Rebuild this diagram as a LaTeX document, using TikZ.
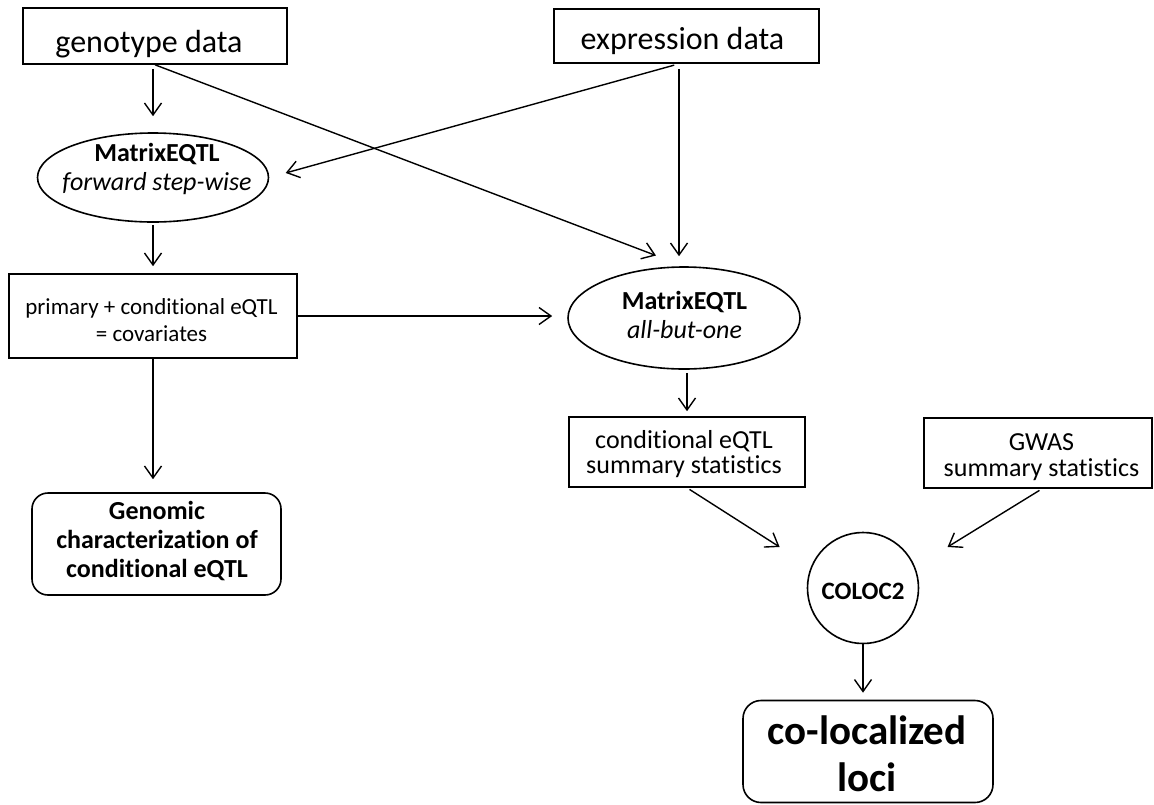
\documentclass[tikz,border=0pt]{standalone}
\usepackage{fontspec}
\setmainfont[RawFeature={-liga;-calt;-clig;-dlig}]{Carlito}
\usetikzlibrary{arrows.meta,shapes.geometric,calc}
\begin{document}
\begin{tikzpicture}[x=1pt,y=-1pt,
  shp/.style={draw, line width=1.6pt, inner sep=0pt, rectangle},
  rbox/.style={shp, rounded corners=16pt},
  ell/.style={draw, line width=1.6pt, inner sep=0pt, ellipse},
  lbl/.style={inner sep=0pt, align=center},
  big/.style={font=\fontsize{32}{38}\selectfont},
  mid/.style={font=\fontsize{26}{29}\selectfont},
  arr/.style={line width=1.4pt, -{Straight Barb[length=12pt,width=17pt]}}
]
\useasboundingbox (0,0) rectangle (1154,804);

% shapes
\node[shp, minimum width=264pt, minimum height=56pt] (geno) at (155,36) {};
\node[shp, minimum width=265pt, minimum height=54pt] (expr) at (686.5,36) {};
\node[ell, minimum width=231pt, minimum height=89pt] (e1) at (153,177.5) {};
\node[shp, minimum width=288pt, minimum height=84pt] (prim) at (153,316) {};
\node[ell, minimum width=232pt, minimum height=102pt] (e2) at (684,318) {};
\node[shp, minimum width=236pt, minimum height=70pt] (cond) at (687,452) {};
\node[shp, minimum width=228pt, minimum height=70pt] (gwas) at (1038,453) {};
\node[rbox, minimum width=249pt, minimum height=102pt] (genom) at (156.5,544) {};
\node[draw, line width=1.6pt, inner sep=0pt, circle, minimum size=111pt] (coloc) at (863,588) {};
\node[shp, rounded corners=18pt, minimum width=250pt, minimum height=102pt] (loci) at (868,751.5) {};

% texts
\node[lbl, big] (genot) at (149,44.5) {genotype data};
\node[lbl, big] (exprt) at (682.5,41) {expression data};
\node[lbl, mid] (e1t) at (157,168.5) {\textbf{MatrixEQTL}\\\textit{forward step-wise}};
\node[lbl, font=\fontsize{23}{27}\selectfont] (primt) at (151.5,320) {primary + conditional eQTL\\= covariates};
\node[lbl, mid] (e2t) at (684.5,315) {\textbf{MatrixEQTL}\\\textit{all-but-one}};
\node[lbl, font=\fontsize{26}{25}\selectfont] (condt) at (684,454.5) {conditional eQTL\\summary statistics};
\node[lbl, font=\fontsize{26}{26}\selectfont] (gwast) at (1041.5,457.5) {GWAS\\summary statistics};
\node[lbl, font=\bfseries\fontsize{26}{29}\selectfont] (genomt) at (157,541) {Genomic\\characterization of\\conditional eQTL};
\node[lbl, font=\bfseries\fontsize{25}{30}\selectfont] (colocat) at (863,591) {COLOC2};
\node[lbl, font=\bfseries\fontsize{41}{47}\selectfont] (locit) at (867,754) {co-localized\\loci};

% connectors
\draw[arr, shorten <=4pt, shorten >=16pt] (e1.north |- geno.south) -- (e1.north);
\draw[arr, shorten >=30pt] (geno.south) -- (e2.north);
\draw[arr, shorten <=5pt, shorten >=10pt] ([xshift=-7.5pt]expr.south) -- ([xshift=-7.5pt]expr.south |- e2.north);
\draw[arr, shorten <=5pt, shorten >=17pt] ([xshift=-7.5pt]expr.south) -- (e1.east);
\draw[arr, shorten <=2pt, shorten >=7pt] (e1.south) -- (e1.south |- prim.north);
\draw[arr, shorten >=15pt] (prim.east) -- (prim.east -| e2.west);
\draw[arr, shorten >=13pt] (prim.south) -- (prim.south |- genom.north);
\draw[arr, shorten <=3pt, shorten >=5pt] (cond.north |- e2.south) -- (cond.north);
\draw[arr, shorten <=3pt, shorten >=37pt] (cond.south) -- (coloc.158);
\draw[arr, shorten <=3pt, shorten >=38pt] ([xshift=4pt]gwas.south) -- (coloc.22);
\draw[arr, shorten >=7pt] (coloc.south) -- (coloc.south |- loci.north);
\end{tikzpicture}
\end{document}
